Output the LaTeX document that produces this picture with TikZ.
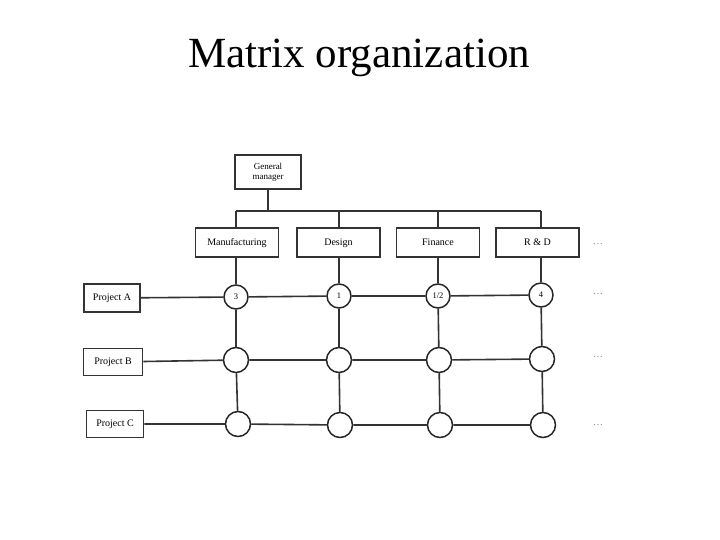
\documentclass[tikz,border=0pt]{standalone}
\usepackage{fontspec}
\setmainfont{Liberation Serif}
\begin{document}
\begin{tikzpicture}[x=1pt,y=-1pt,
  ln/.style={draw=black!80,line width=1.6pt},
  box/.style={draw=black!80,line width=1.8pt,fill=white,inner sep=0pt,font=\fontsize{10}{11}\selectfont,align=center,text height=7pt,text depth=2pt},
  cell/.style={circle,draw=black!85,line width=1.5pt,fill=white,inner sep=0pt,font=\fontsize{8.5}{8.5}\selectfont},
  dots/.style={text=black!50,font=\fontsize{10}{10}\selectfont}]
\useasboundingbox (0,0) rectangle (720,540);
\node[font=\fontsize{43}{43}\selectfont] (title) at (359,58) {Matrix organization};
% general manager
\node[box,minimum width=66pt,minimum height=34pt,font=\fontsize{9}{10}\selectfont,text height=,text depth=] (gm) at (268,172) {General\\manager};
% departments
\node[box,minimum width=83pt,minimum height=29pt] (d1) at (237,242.5) {Manufacturing};
\node[box,minimum width=83pt,minimum height=29pt] (d2) at (338.5,242.5) {Design};
\node[box,minimum width=83pt,minimum height=29pt] (d3) at (438,242.5) {Finance};
\node[box,minimum width=83pt,minimum height=29pt] (d4) at (537.5,242.5) {R \& D};
\node[dots] (dd) at (598,244) {\dots};
% bus
\coordinate (b0) at (268,211);
\coordinate (b1) at (236,211);
\coordinate (b2) at (339,211);
\coordinate (b3) at (438,211);
\coordinate (b4) at (541,211);
% projects
\node[box,minimum width=56pt,minimum height=28pt] (pa) at (112,298) {Project A};
\node[box,minimum width=59pt,minimum height=27pt] (pb) at (113,362) {Project B};
\node[box,minimum width=57pt,minimum height=27pt] (pc) at (115,424) {Project C};
% cells
\node[cell,minimum size=24pt] (a1) at (236,297) {3};
\node[cell,minimum size=24pt] (a2) at (339,296) {1};
\node[cell,minimum size=24pt] (a3) at (438,296) {1/2};
\node[cell,minimum size=24pt] (a4) at (541,295) {4};
\node[cell,minimum size=25pt] (b1c) at (236,360) {};
\node[cell,minimum size=25pt] (b2c) at (339,360) {};
\node[cell,minimum size=25pt] (b3c) at (439,360) {};
\node[cell,minimum size=25pt] (b4c) at (542,359) {};
\node[cell,minimum size=25pt] (c1) at (238,424) {};
\node[cell,minimum size=25pt] (c2) at (340,425) {};
\node[cell,minimum size=25pt] (c3) at (440,425) {};
\node[cell,minimum size=25pt] (c4) at (543,425) {};
\node[dots] (da) at (598,294) {\dots};
\node[dots] (db) at (598,357) {\dots};
\node[dots] (dc) at (598,425) {\dots};
% connectors
\draw[ln] (gm.south) -- (b0);
\draw[ln] (b1) -- (b4);
\draw[ln] (b1) -- (b1 |- d1.north);
\draw[ln] (b2) -- (b2 |- d2.north);
\draw[ln] (b3) -- (b3 |- d3.north);
\draw[ln] (b4) -- (b4 |- d4.north);
\draw[ln] (a1 |- d1.south) -- (a1.north);
\draw[ln] (a2 |- d2.south) -- (a2.north);
\draw[ln] (a3 |- d3.south) -- (a3.north);
\draw[ln] (a4 |- d4.south) -- (a4.north);
\draw[ln] (a1) -- (b1c) -- (c1);
\draw[ln] (a2) -- (b2c) -- (c2);
\draw[ln] (a3) -- (b3c) -- (c3);
\draw[ln] (a4) -- (b4c) -- (c4);
\draw[ln] (pa) -- (a1) -- (a2) -- (a3) -- (a4);
\draw[ln] (pb) -- (b1c) -- (b2c) -- (b3c) -- (b4c);
\draw[ln] (pc) -- (c1) -- (c2) -- (c3) -- (c4);
\end{tikzpicture}
\end{document}
